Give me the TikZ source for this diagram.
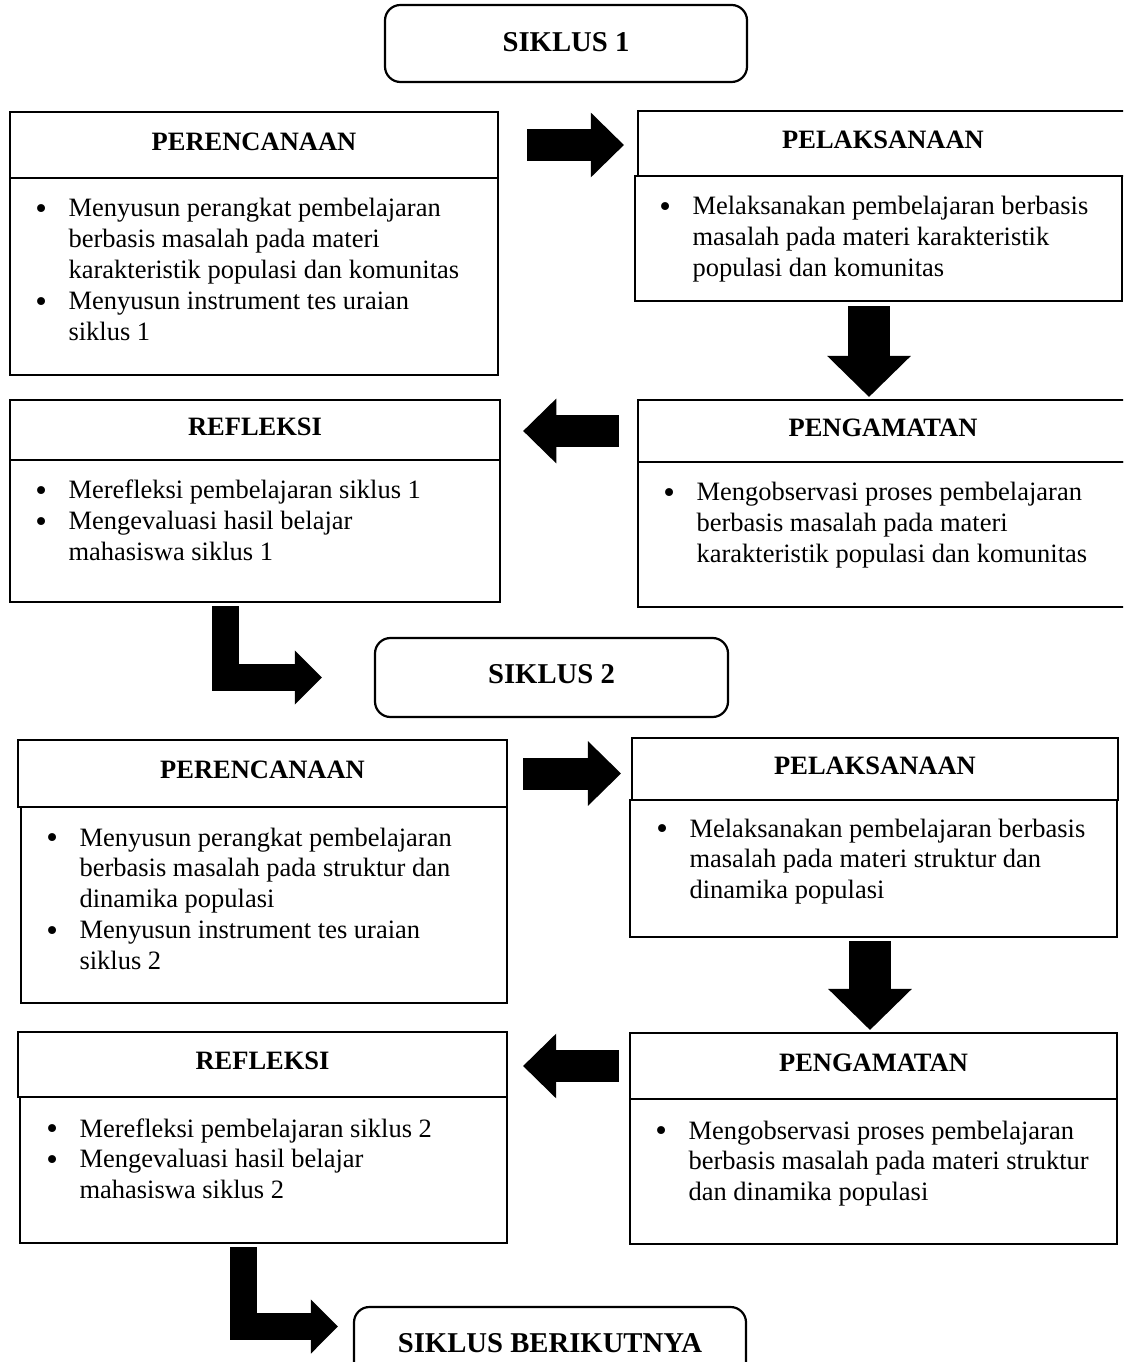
\documentclass[tikz,border=0pt]{standalone}
\usepackage{fontspec}
\setmainfont{Liberation Serif}
\usetikzlibrary{arrows.meta,fit}

\newcommand{\itemdot}{\raisebox{-1.2pt}{\fontsize{15}{14}\selectfont\textbullet}}
\newcommand{\steplist}[1]{\begin{tabular}[t]{@{}p{15pt}@{}l@{}}#1\end{tabular}}

\begin{document}
\begin{tikzpicture}[x=0.453pt,y=-0.453pt,
  headbox/.style={draw,line width=1pt,inner sep=0pt},
  bodybox/.style={draw,line width=1pt,inner sep=0pt},
  cyclebox/.style={draw,line width=1pt,rounded corners=7pt,inner sep=0pt},
  headtext/.style={inner sep=0pt,font=\fontsize{12}{14}\selectfont\bfseries},
  cycletext/.style={inner sep=0pt,font=\fontsize{13}{15}\selectfont\bfseries},
  items/.style={inner sep=0pt,anchor=base west,font=\fontsize{12}{14}\selectfont},
  flatarrow/.style={line width=14.5pt,-{Triangle[length=15pt,width=29.4pt,line width=0pt]}},
  droparrow/.style={line width=19pt,-{Triangle[length=18.6pt,width=38pt,line width=0pt]}},
  bentarrow/.style={line width=12.2pt,-{Triangle[length=12.2pt,width=24.5pt,line width=0pt]}}]
\useasboundingbox (0,0) rectangle (1123,1362);
\clip (0,0) rectangle (1123,1362);

% siklus 1
\node[cyclebox,fit={(385,5) (747,82)}] (s1) {};
\node[headbox,fit={(10,112) (498,178)}] (p1h) {};
\node[bodybox,fit={(10,178) (498,375)}] (p1b) {};
\node[headbox,fit={(638,111) (1128,176)}] (l1h) {};
\node[bodybox,fit={(635,176) (1122,301)}] (l1b) {};
\node[headbox,fit={(638,400) (1128,462)}] (g1h) {};
\node[bodybox,fit={(638,462) (1128,607)}] (g1b) {};
\node[headbox,fit={(10,400) (500,460)}] (r1h) {};
\node[bodybox,fit={(10,460) (500,602)}] (r1b) {};

\node[cycletext] (s1n) at ([yshift=0.7pt]s1.center) {SIKLUS 1};
\node[headtext] (p1n) at ([yshift=1.5pt]p1h.center) {PERENCANAAN};
\node[headtext] (l1n) at ([yshift=1.5pt]l1h.center) {PELAKSANAAN};
\node[headtext] (g1n) at ([yshift=1.5pt]g1h.center) {PENGAMATAN};
\node[headtext] (r1n) at ([yshift=1.5pt]r1h.center) {REFLEKSI};

\node[items] (p1t) at (35,217) {\steplist{%
  \itemdot & Menyusun perangkat pembelajaran\\
  & berbasis masalah pada materi\\
  & karakteristik populasi dan komunitas\\
  \itemdot & Menyusun instrument tes uraian\\
  & siklus 1}};
\node[items] (l1t) at (659,215) {\steplist{%
  \itemdot & Melaksanakan pembelajaran berbasis\\
  & masalah pada materi karakteristik\\
  & populasi dan komunitas}};
\node[items] (g1t) at (663,501) {\steplist{%
  \itemdot & Mengobservasi proses pembelajaran\\
  & berbasis masalah pada materi\\
  & karakteristik populasi dan komunitas}};
\node[items] (r1t) at (35,499) {\steplist{%
  \itemdot & Merefleksi pembelajaran siklus 1\\
  \itemdot & Mengevaluasi hasil belajar\\
  & mahasiswa siklus 1}};

% siklus 2
\node[cyclebox,fit={(375,638) (728,717)}] (s2) {};
\node[headbox,fit={(18,740) (507,807)}] (p2h) {};
\node[bodybox,fit={(21,807) (507,1003)}] (p2b) {};
\node[headbox,fit={(632,738) (1118,800)}] (l2h) {};
\node[bodybox,fit={(630,800) (1117,937)}] (l2b) {};
\node[headbox,fit={(630,1033) (1117,1099)}] (g2h) {};
\node[bodybox,fit={(630,1099) (1117,1244)}] (g2b) {};
\node[headbox,fit={(18,1032) (507,1097)}] (r2h) {};
\node[bodybox,fit={(20,1097) (507,1243)}] (r2b) {};
\node[cyclebox,fit={(354,1307) (746,1380)}] (sb) {};

\node[cycletext] (s2n) at ([yshift=1.5pt]s2.center) {SIKLUS 2};
\node[headtext] (p2n) at ([yshift=1.5pt]p2h.center) {PERENCANAAN};
\node[headtext] (l2n) at ([yshift=1.5pt]l2h.center) {PELAKSANAAN};
\node[headtext] (g2n) at ([yshift=1.5pt]g2h.center) {PENGAMATAN};
\node[headtext] (r2n) at ([yshift=1.5pt]r2h.center) {REFLEKSI};
\node[cycletext] (sbn) at (sb.center) {SIKLUS BERIKUTNYA};

\node[items] (p2t) at (46,846) {\steplist{%
  \itemdot & Menyusun perangkat pembelajaran\\
  & berbasis masalah pada struktur dan\\
  & dinamika populasi\\
  \itemdot & Menyusun instrument tes uraian\\
  & siklus 2}};
\node[items] (l2t) at (656,837) {\steplist{%
  \itemdot & Melaksanakan pembelajaran berbasis\\
  & masalah pada materi struktur dan\\
  & dinamika populasi}};
\node[items] (g2t) at (655,1139) {\steplist{%
  \itemdot & Mengobservasi proses pembelajaran\\
  & berbasis masalah pada materi struktur\\
  & dan dinamika populasi}};
\node[items] (r2t) at (46,1137) {\steplist{%
  \itemdot & Merefleksi pembelajaran siklus 2\\
  \itemdot & Mengevaluasi hasil belajar\\
  & mahasiswa siklus 2}};

% panah
\draw[flatarrow,shorten <=12.7pt,shorten >=5.9pt] (p1h.east) -- (p1h.east -| l1h.west);
\draw[droparrow,shorten <=1.8pt,shorten >=0.9pt] ([xshift=-4.3pt]l1b.south) -- ([xshift=-4.3pt]l1b.south |- g1h.north);
\draw[flatarrow,shorten <=8.2pt,shorten >=10pt] (g1h.west) -- (g1h.west -| r1h.east);
\draw[bentarrow,shorten <=1.4pt,shorten >=23.6pt] ([xshift=-13.4pt]r1b.south) |- (s2.west);
\draw[flatarrow,shorten <=6.8pt,shorten >=4.5pt] (p2h.east) -- (p2h.east -| l2h.west);
\draw[droparrow,shorten <=1.4pt,shorten >=0.9pt] ([xshift=-1.6pt]l2b.south) -- ([xshift=-1.6pt]l2b.south |- g2h.north);
\draw[flatarrow,shorten <=4.5pt,shorten >=6.8pt] (g2h.west) -- (g2h.west -| r2h.east);
\draw[bentarrow,shorten <=1.4pt,shorten >=6.8pt] ([xshift=-9.1pt]r2b.south) |- ([yshift=7.7pt]sb.west);
\end{tikzpicture}
\end{document}
